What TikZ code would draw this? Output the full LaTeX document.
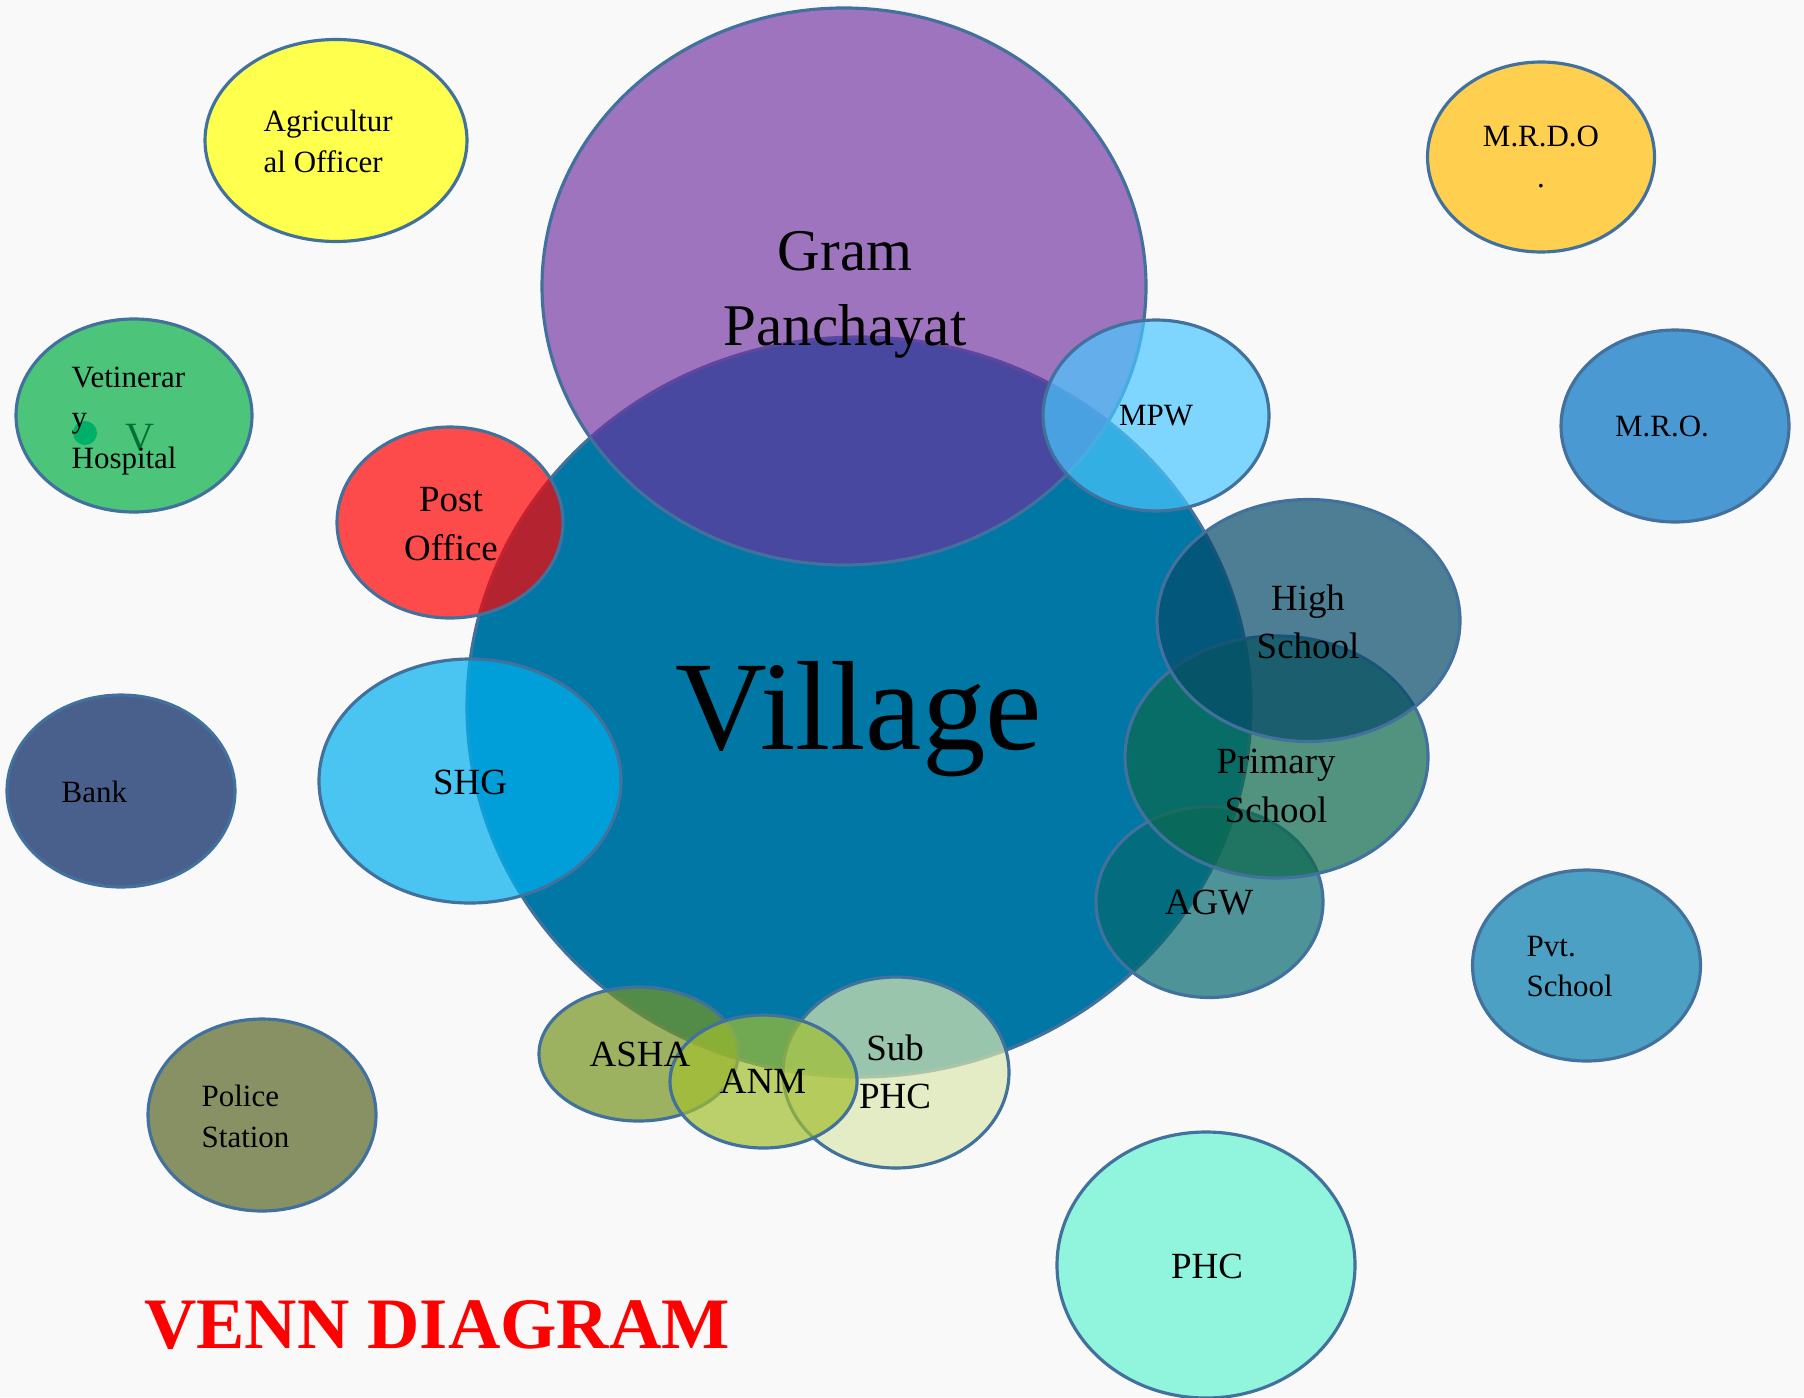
\documentclass[tikz,border=0pt]{standalone}
\usepackage{fontspec}
\setmainfont{Liberation Serif}

\definecolor{bggray}{RGB}{249,249,249}
\definecolor{edgeblue}{RGB}{65,113,156}
\definecolor{agriyellow}{RGB}{255,255,77}
\definecolor{gppurple}{RGB}{112,48,160}
\definecolor{villageblue}{RGB}{0,119,164}
\definecolor{mrdoyellow}{RGB}{255,208,80}
\definecolor{mroblue}{RGB}{75,153,210}
\definecolor{vetgreen}{RGB}{76,196,122}
\definecolor{vetdot}{RGB}{0,176,104}
\definecolor{vetletter}{RGB}{0,112,52}
\definecolor{mpwblue}{RGB}{74,199,255}
\definecolor{postred}{RGB}{255,0,0}
\definecolor{highblue}{RGB}{5,74,105}
\definecolor{primarygreen}{RGB}{12,105,76}
\definecolor{agwteal}{RGB}{5,105,112}
\definecolor{shgblue}{RGB}{0,176,240}
\definecolor{bankblue}{RGB}{74,96,140}
\definecolor{pvtblue}{RGB}{75,160,195}
\definecolor{policeolive}{RGB}{135,145,100}
\definecolor{ashaolive}{RGB}{119,148,33}
\definecolor{anmgreen}{RGB}{162,191,48}
\definecolor{subphccream}{RGB}{219,231,176}
\definecolor{phcaqua}{RGB}{144,245,220}

\tikzset{
	blob/.style={draw=edgeblue, line width=0.9pt},
	small/.style={font=\fontsize{8.8}{11.5}\selectfont, inner sep=0pt},
	medium/.style={font=\fontsize{10.5}{13.7}\selectfont, inner sep=0pt},
}

\begin{document}
\begin{tikzpicture}
	[x=0.01cm, y=-0.01cm]
	\fill[bggray] (0,0) rectangle (1804,1397);
	\useasboundingbox (0,0) rectangle (1804,1397);
	\foreach \x/\y/\rx/\ry/\c/\o in
		{336/140.5/131/101/agriyellow/1, 1541/157/113.5/95/mrdoyellow/1,
		 1675/426/114/96/mroblue/1, 134/415.5/118/96.5/vetgreen/1,
		 121/791/114/96/bankblue/1, 1586.5/965.5/114/95.5/pvtblue/1,
		 262/1115/114/96/policeolive/1, 1206/1265/149/133/phcaqua/1,
		 859/707/392/370/villageblue/1, 844/286.5/302/278.5/gppurple/0.66,
		 1156/415.5/113/95.5/mpwblue/0.7, 450/522.5/113/95.5/postred/0.7,
		 470/781/151/122/shgblue/0.7, 1209.5/902/113.5/95.5/agwteal/0.7,
		 1276.5/757/151.5/121/primarygreen/0.7, 1308.5/620.5/151.5/121/highblue/0.7,
		 638.5/1054/99.5/67/ashaolive/0.7, 896/1072.5/113/95.5/subphccream/0.7,
		 763.5/1081.5/93.5/66.5/anmgreen/0.7}
	{	\filldraw[blob, fill=\c, fill opacity=\o] (\x,\y) ellipse [x radius=\rx, y radius=\ry];
		}
	\fill[vetdot] (85,433) circle [radius=12];
	\node[text=vetletter, font=\fontsize{11.4}{12}\selectfont, inner sep=0pt] (vetv) at (140,438) {V};

	\node[small, align=left, anchor=west] (agri) at (263,141.5) {Agricultur\\al Officer};
	\node[font=\fontsize{16.8}{21.3}\selectfont, inner sep=0pt, align=center] (gp) at (845,295) {Gram\\Panchayat};
	\node[small, align=center] (mrdo) at (1541,157) {M.R.D.O\\.};
	\node[small, anchor=base] (mro) at (1662,436) {M.R.O.};
	\node[small, align=left, anchor=west] (vet) at (71,421) {Vetinerar\\y\\Hospital};
	\node[small, anchor=base] (mpw) at (1156,425) {MPW};
	\node[medium, align=center] (post) at (451,524) {Post\\Office};
	\node[font=\fontsize{36.1}{40}\selectfont, inner sep=0pt, anchor=base] (village) at (859,749) {Village};
	\node[medium, anchor=base] (shg) at (470,794) {SHG};
	\node[small, anchor=base west] (bank) at (61,802) {Bank};
	\node[medium, align=center] (high) at (1308,622) {High\\School};
	\node[medium, align=center] (primary) at (1276,786) {Primary\\School};
	\node[medium, anchor=base] (agw) at (1209,914) {AGW};
	\node[small, align=left, anchor=west] (pvt) at (1526,966.5) {Pvt.\\School};
	\node[small, align=left, anchor=west] (police) at (201,1116.5) {Police\\Station};
	\node[medium, anchor=base] (asha) at (640,1066) {ASHA};
	\node[medium, anchor=base] (anm) at (763,1093) {ANM};
	\node[medium, align=center] (subphc) at (895,1071.5) {Sub\\PHC};
	\node[medium, anchor=base] (phc) at (1207,1278) {PHC};
	\node[text=red, font=\bfseries\fontsize{20.6}{24}\selectfont, inner sep=0pt, anchor=base] (title) at (437,1348) {VENN DIAGRAM};
	\end{tikzpicture}
\end{document}
